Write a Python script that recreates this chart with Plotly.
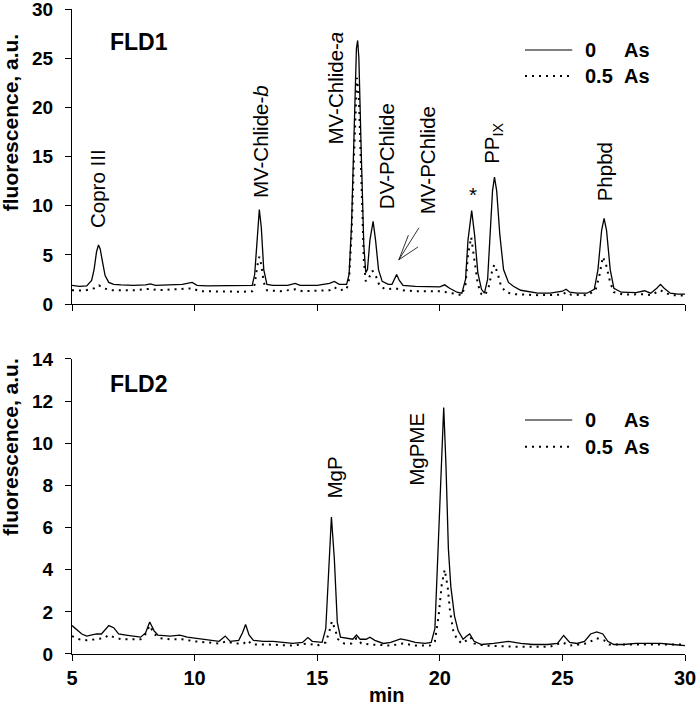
import plotly.graph_objects as go

# ---------------- data ----------------
# FLD1, 0 As (solid)
fld1_ctrl_t = [5.0, 5.3, 5.6, 5.8, 5.9, 6.0, 6.08, 6.15, 6.25, 6.35, 6.5, 6.7, 7.0, 7.5, 8.0, 8.2, 8.4, 9.0, 9.5, 9.9,
               10.1, 10.5, 11.0, 11.5, 12.0, 12.35, 12.45, 12.55, 12.64, 12.72, 12.82, 12.95, 13.2, 13.8, 14.1, 14.3,
               15.0, 15.5, 15.7, 15.9, 16.2, 16.3, 16.4, 16.5, 16.6, 16.65, 16.7, 16.8, 16.9, 16.98, 17.05, 17.15,
               17.28, 17.38, 17.5, 17.65, 17.9, 18.05, 18.15, 18.24, 18.35, 18.5, 19.0, 19.5, 20.0, 20.2, 20.4, 20.7,
               20.9, 21.05, 21.15, 21.3, 21.42, 21.55, 21.7, 21.82, 21.95, 22.05, 22.15, 22.23, 22.32, 22.45, 22.6,
               22.8, 23.0, 23.3, 23.7, 24.0, 24.5, 25.0, 25.15, 25.3, 25.6, 26.0, 26.3, 26.45, 26.6, 26.7, 26.8,
               26.95, 27.1, 27.4, 28.0, 28.35, 28.6, 28.85, 29.0, 29.15, 29.4, 29.7, 30.0]
fld1_ctrl_v = [1.9, 1.8, 1.85, 2.4, 3.5, 5.3, 6.0, 5.6, 4.2, 2.9, 2.2, 2.0, 1.95, 1.9, 1.95, 2.05, 1.9, 1.95, 2.0, 2.2,
               1.9, 1.85, 1.85, 1.85, 1.85, 1.9, 3.0, 7.0, 9.6, 7.8, 3.5, 2.0, 1.9, 1.9, 2.1, 1.9,
               1.9, 2.1, 2.3, 2.0, 2.0, 3.0, 8.0, 17.0, 26.0, 26.8, 25.0, 15.0, 6.0, 3.2, 3.5, 6.5,
               8.4, 6.5, 3.5, 2.3, 2.0, 2.0, 2.6, 3.0, 2.4, 1.9, 1.8, 1.75, 1.75, 1.95, 1.6, 1.2,
               1.1, 2.5, 6.5, 9.5, 7.0, 3.2, 1.5, 1.1, 2.5, 7.0, 11.5, 12.9, 11.5, 7.0, 3.5,
               2.2, 1.8, 1.4, 1.2, 1.1, 1.1, 1.3, 1.5, 1.2, 1.1, 1.1, 1.5, 3.5, 7.5, 8.7, 7.5,
               3.5, 1.6, 1.2, 1.15, 1.35, 1.1, 1.6, 2.0, 1.6, 1.1, 1.0, 1.0]

# FLD1, 0.5 As (dotted)
fld1_as_t = [5.0, 5.5, 5.9, 6.1, 6.3, 6.6, 7.5, 8.2, 8.5, 9.5, 9.9, 10.2, 11.0, 12.0, 12.35, 12.45, 12.55, 12.64,
             12.72, 12.82, 12.95, 13.5, 14.1, 14.4, 15.5, 15.7, 15.9, 16.2, 16.3, 16.4, 16.5, 16.62, 16.7, 16.8,
             16.9, 16.98, 17.1, 17.25, 17.4, 17.55, 17.8, 18.2, 18.5, 19.0, 20.0, 20.5, 20.9, 21.05, 21.15, 21.28,
             21.42, 21.55, 21.7, 21.85, 22.0, 22.12, 22.22, 22.35, 22.5, 22.7, 23.0, 24.0, 25.0, 25.15, 25.35,
             26.0, 26.35, 26.5, 26.65, 26.78, 26.95, 27.1, 27.5, 28.3, 28.6, 29.0, 29.2, 29.5, 30.0]
fld1_as_v = [1.4, 1.35, 1.6, 1.9, 1.6, 1.4, 1.4, 1.55, 1.4, 1.5, 1.6, 1.3, 1.25, 1.25, 1.3, 2.0, 3.8, 4.8,
             4.0, 2.2, 1.4, 1.3, 1.5, 1.3, 1.4, 1.7, 1.4, 1.5, 2.5, 7.0, 15.0, 23.0, 21.0, 12.0,
             4.5, 2.3, 2.6, 3.4, 2.8, 1.8, 1.5, 1.6, 1.4, 1.3, 1.3, 1.1, 0.9, 2.0, 5.0, 6.8,
             4.5, 2.0, 1.0, 0.9, 1.8, 3.2, 4.0, 3.2, 1.8, 1.2, 1.0, 0.9, 0.95, 1.2, 0.95,
             0.9, 1.4, 2.8, 4.8, 4.0, 2.2, 1.2, 0.95, 1.0, 0.9, 1.4, 1.1, 0.9, 0.85]

# FLD2, 0 As (solid)
fld2_ctrl_t = [5.0, 5.2, 5.4, 5.6, 5.8, 6.0, 6.2, 6.35, 6.5, 6.7, 6.9, 7.2, 7.5, 7.8, 8.0, 8.17, 8.35, 8.5, 9.0, 9.4,
               9.7, 10.0, 10.5, 11.0, 11.25, 11.45, 11.8, 11.95, 12.08, 12.22, 12.4, 12.8, 13.2, 13.5, 14.0, 14.4,
               14.62, 14.8, 15.2, 15.35, 15.45, 15.58, 15.7, 15.82, 15.95, 16.2, 16.45, 16.6, 16.75, 17.0, 17.15,
               17.35, 17.7, 18.0, 18.4, 18.7, 19.0, 19.4, 19.65, 19.8, 19.95, 20.1, 20.16, 20.25, 20.35, 20.45,
               20.6, 20.75, 20.95, 21.1, 21.22, 21.4, 21.7, 22.2, 22.8, 23.3, 23.8, 24.4, 24.8, 25.05, 25.3, 25.6,
               25.9, 26.15, 26.4, 26.65, 26.85, 27.1, 27.5, 28.0, 28.5, 29.0, 29.5, 30.0]
fld2_ctrl_v = [1.35, 1.15, 0.95, 0.85, 0.9, 0.95, 0.95, 1.15, 1.35, 1.25, 0.95, 0.9, 0.85, 0.8, 1.0, 1.52, 1.1, 0.9,
               0.85, 0.9, 0.8, 0.75, 0.65, 0.6, 0.85, 0.6, 0.65, 1.0, 1.4, 0.9, 0.65, 0.6, 0.6, 0.55, 0.5, 0.55,
               0.78, 0.6, 0.55, 1.2, 3.5, 6.5, 4.5, 1.5, 0.8, 0.75, 0.7, 0.9, 0.7, 0.7, 0.8,
               0.65, 0.5, 0.55, 0.72, 0.65, 0.55, 0.5, 0.55, 1.2, 5.5, 10.5, 11.7, 9.0, 5.0, 3.2,
               1.8, 1.1, 0.7, 0.85, 0.95, 0.6, 0.45, 0.5, 0.6, 0.5, 0.45, 0.45, 0.5, 0.88, 0.55, 0.5,
               0.6, 0.95, 1.05, 0.95, 0.6, 0.45, 0.45, 0.5, 0.5, 0.5, 0.45, 0.4]

# FLD2, 0.5 As (dotted)
fld2_as_t = [5.0, 5.3, 5.6, 6.0, 6.3, 6.5, 6.7, 7.0, 7.5, 7.8, 8.0, 8.17, 8.35, 8.6, 9.0, 9.5, 10.0, 10.5, 11.0,
             11.3, 11.6, 12.0, 12.15, 12.35, 13.0, 14.0, 14.6, 15.0, 15.35, 15.5, 15.6, 15.72, 15.85, 16.1, 16.4,
             16.6, 16.8, 17.2, 18.0, 18.5, 19.0, 19.6, 19.8, 19.95, 20.08, 20.2, 20.32, 20.42, 20.55, 20.7, 20.9,
             21.1, 21.25, 21.4, 21.8, 23.0, 24.5, 25.0, 25.3, 26.0, 26.4, 26.7, 26.9, 27.3, 28.5, 30.0]
fld2_as_v = [0.85, 0.7, 0.65, 0.7, 0.75, 0.9, 0.8, 0.7, 0.7, 0.7, 0.95, 1.35, 0.95, 0.75, 0.7, 0.7, 0.6, 0.55, 0.5,
             0.6, 0.5, 0.5, 0.65, 0.45, 0.45, 0.4, 0.5, 0.4, 0.55, 1.1, 1.55, 1.2, 0.7, 0.5, 0.5,
             0.75, 0.5, 0.45, 0.4, 0.5, 0.4, 0.4, 0.6, 1.8, 3.3, 4.0, 3.2, 2.0, 1.1, 0.7, 0.5,
             0.65, 0.8, 0.5, 0.4, 0.35, 0.35, 0.55, 0.4, 0.5, 0.75, 0.65, 0.45, 0.45, 0.45, 0.45]

# peak labels: (text, time, height)
fld1_labels = ["Copro III", "MV-Chlide-<i>b</i>", "MV-Chlide-<i>a</i>", "DV-PChlide", "MV-PChlide",
               "PP<sub>IX</sub>", "Phpbd"]
fld1_label_t = [6.07, 12.66, 15.74, 17.83, 19.51, 22.17, 26.7]
fld1_label_v = [7.5, 10.6, 16.0, 9.4, 8.9, 14.0, 10.2]
fld2_labels = ["MgP", "MgPME"]
fld2_label_t = [15.7, 19.02]
fld2_label_v = [7.3, 7.9]

series_names = ["0", "0.5"]

FONT = "Arial, Liberation Sans, sans-serif"
DOT = "2px,5px"

fig = go.Figure()
fig.add_trace(go.Scatter(x=fld1_ctrl_t, y=fld1_ctrl_v, mode="lines", xaxis="x", yaxis="y",
                         line=dict(color="black", width=1.3), showlegend=False))
fig.add_trace(go.Scatter(x=fld1_as_t, y=fld1_as_v, mode="lines", xaxis="x", yaxis="y",
                         line=dict(color="black", width=2, dash=DOT), showlegend=False))
fig.add_trace(go.Scatter(x=fld2_ctrl_t, y=fld2_ctrl_v, mode="lines", xaxis="x2", yaxis="y2",
                         line=dict(color="black", width=1.3), showlegend=False))
fig.add_trace(go.Scatter(x=fld2_as_t, y=fld2_as_v, mode="lines", xaxis="x2", yaxis="y2",
                         line=dict(color="black", width=2, dash=DOT), showlegend=False))

axis_common = dict(showline=True, linecolor="black", linewidth=1.3, ticks="outside", ticklen=6,
                   tickwidth=1.3, tickcolor="black", showgrid=False, zeroline=False, automargin=False,
                   ticklabeloverflow="allow")
xtick_font = dict(family=FONT, size=20, color="black", weight="bold")
ytick_font = dict(family=FONT, size=19, color="black", weight="bold")

lab_font = dict(family=FONT, size=20.5, color="black")
ann = []
for txt, t, v in zip(fld1_labels, fld1_label_t, fld1_label_v):
    ann.append(dict(x=t, y=v, xref="x", yref="y", text=txt, textangle=-90, showarrow=False,
                    xanchor="center", yanchor="bottom", font=lab_font))
ann.append(dict(x=21.34, y=9.8, xref="x", yref="y", text="*", showarrow=False, xanchor="center",
                yanchor="bottom", font=lab_font))
for txt, t, v in zip(fld2_labels, fld2_label_t, fld2_label_v):
    ann.append(dict(x=t, y=v, xref="x2", yref="y2", text=txt, textangle=-90, showarrow=False,
                    xanchor="center", yanchor="bottom", font=lab_font))

bold = dict(family=FONT, size=20, color="black", weight="bold")
title_font = dict(family=FONT, size=21, color="black", weight="bold")
ann.append(dict(x=6.48, y=26.6, xref="x", yref="y", text="FLD1", showarrow=False, xanchor="left",
                yanchor="middle", font=dict(family=FONT, size=23, color="black", weight="bold")))
ann.append(dict(x=6.48, y=12.8, xref="x2", yref="y2", text="FLD2", showarrow=False, xanchor="left",
                yanchor="middle", font=dict(family=FONT, size=23, color="black", weight="bold")))
# y titles
ann.append(dict(x=-0.1, y=0.824, xref="paper", yref="paper", text="fluorescence, a.u.", textangle=-90,
                showarrow=False, xanchor="center", yanchor="middle", font=title_font))
ann.append(dict(x=-0.1, y=0.321, xref="paper", yref="paper", text="fluorescence, a.u.", textangle=-90,
                showarrow=False, xanchor="center", yanchor="middle", font=title_font))
ann.append(dict(x=0.514, y=-0.063, xref="paper", yref="paper", text="min", showarrow=False,
                xanchor="center", yanchor="middle", font=bold))

# legends (drawn manually)
shapes = []
leg = [(0.9364, 0.8961), (0.3628, 0.3214)]
for (ys, yd) in leg:
    shapes.append(dict(type="line", xref="paper", yref="paper", x0=0.739, x1=0.816, y0=ys, y1=ys,
                       line=dict(color="#555555", width=1.5)))
    shapes.append(dict(type="line", xref="paper", yref="paper", x0=0.739, x1=0.816, y0=yd, y1=yd,
                       line=dict(color="black", width=2, dash=DOT)))
    for yy, nm in zip((ys, yd), series_names):
        ann.append(dict(x=0.834, y=yy, xref="paper", yref="paper", text=nm, showarrow=False,
                        xanchor="left", yanchor="middle", font=bold))
        ann.append(dict(x=0.897, y=yy, xref="paper", yref="paper", text="As", showarrow=False,
                        xanchor="left", yanchor="middle", font=bold))

# arrow lines pointing to MV-PChlide
tip = (18.33, 4.5)
for end in [(19.15, 7.76), (19.11, 5.8), (18.72, 7.0)]:
    shapes.append(dict(type="line", xref="x", yref="y", x0=tip[0], y0=tip[1], x1=end[0], y1=end[1],
                       line=dict(color="black", width=0.8)))

fig.update_layout(
    width=700, height=705,
    margin=dict(l=72, r=15, t=9, b=51, autoexpand=False),
    paper_bgcolor="white", plot_bgcolor="white",
    xaxis=dict(domain=[0, 1], anchor="y", range=[5, 30], dtick=5, tick0=5, showticklabels=False,
               tickfont=xtick_font, **axis_common),
    yaxis=dict(domain=[0.5426, 1], anchor="x", range=[0, 30], dtick=5, ticklabelstandoff=8,
               tickfont=ytick_font, **axis_common),
    xaxis2=dict(domain=[0, 1], anchor="y2", range=[5, 30], dtick=5, tick0=5, ticklabelstandoff=0,
                tickfont=xtick_font, **axis_common),
    yaxis2=dict(domain=[0, 0.4574], anchor="x2", range=[0, 14], dtick=2, ticklabelstandoff=8,
                tickfont=ytick_font, **axis_common),
    annotations=ann, shapes=shapes, showlegend=False,
)

fig.write_html("out.html", config={"displayModeBar": False},
               post_script="document.body.style.margin='0';document.body.style.overflow='hidden';")
